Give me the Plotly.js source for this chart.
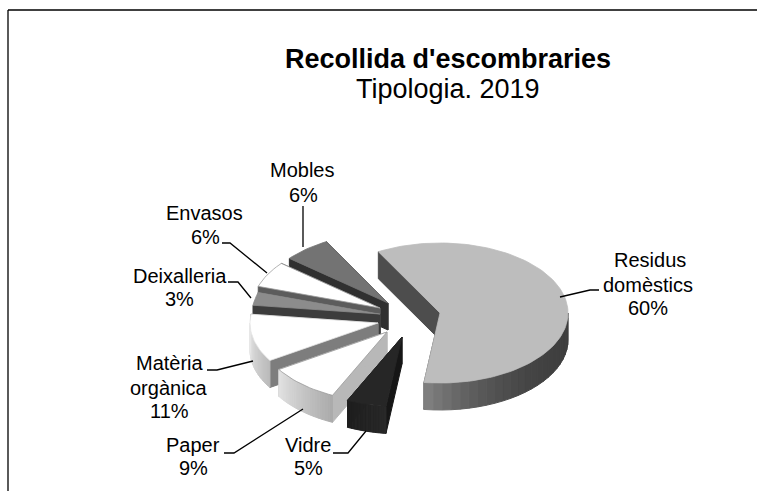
<!DOCTYPE html>
<html>
<head>
<meta charset="utf-8">
<script src="https://cdn.plot.ly/plotly-3.0.1.min.js"></script>
<style>html,body{margin:0;padding:0;background:#fff}#c{width:757px;height:491px}</style>
</head>
<body>
<div id="c"></div>
<script>
// Data
var sliceNames = ['Residus domèstics','Vidre','Paper','Matèria orgànica','Deixalleria','Envasos','Mobles'];
var sliceValues = [60,5,9,11,3,6,6];

// Styles
var topColors    = ['#bdbdbd','#262626','#ffffff','#ffffff','#8c8c8c','#ffffff','#737373'];
var edgeColors   = ['#bdbdbd','#262626','#9a9a9a','#e4e4e4','#8c8c8c','#a0a0a0','#737373'];
var radialColors = ['#4d4d4d','#161616','#b8b8b8','#7d7d7d','#3c3c3c','#5c5c5c','#303030'];
var arcFrom      = [[62,62,62],[40,40,40],[170,170,170],[185,185,185],[60,60,60],[90,90,90],[50,50,50]];
var arcTo        = [[130,130,130],[30,30,30],[225,225,225],[232,232,232],[60,60,60],[90,90,90],[50,50,50]];
var arcPower     = [3,1,1,1,1,1,1];
// Layout of the exploded pie, in page pixels
var apexX = [440,402,387,378,380,380,388];
var apexY = [313,337,332,323,314,308,303];
var radiusX = 128, radiusY = 70, depth = 27, startAngle = -28.8;
var drawOrder = [6,5,4,3,0,2,1];

var labelTexts = ['Residus','domèstics','60%','Mobles','6%','Envasos','6%','Deixalleria','3%','Matèria','orgànica','11%','Paper','9%','Vidre','5%'];
var labelX = [650,648,648,302,303,204,205,180,179,170,169,169,193,193,308,308];
var labelY = [260,285,308,170,195,213,237,276,299,363,388,411,445,468,445,468];
var leaderLines = [
  [[560,297],[590,290],[599,290]],
  [[303,206],[303,247]],
  [[222,243],[230,243],[267,273]],
  [[228,282],[238,282],[251,298]],
  [[207,370],[217,370],[253,361]],
  [[224,453],[234,453],[303,409]],
  [[333,453],[348,453],[366,431]]
];

var traces = [];
function poly(xs, ys, fill, line, w) {
  traces.push({type:'scatter', mode:'lines', x:xs.concat([xs[0]]), y:ys.concat([ys[0]]), fill:'toself',
    fillcolor:fill, line:{color:line||fill, width:w===undefined?1:w}, hoverinfo:'skip', showlegend:false});
}
function pt(i, deg) {
  var r = deg*Math.PI/180;
  return [apexX[i]+radiusX*Math.sin(r), apexY[i]-radiusY*Math.cos(r)];
}
var total = sliceValues.reduce(function(a,b){return a+b;},0);
var starts = [], cum = startAngle;
sliceValues.forEach(function(v){ starts.push(cum); cum += v/total*360; });

drawOrder.forEach(function(i){
  var a0 = starts[i], a1 = a0 + sliceValues[i]/total*360;
  // radial walls
  [a0,a1].forEach(function(a){
    var p = pt(i,a);
    poly([apexX[i],p[0],p[0],apexX[i]],[apexY[i],p[1],p[1]+depth,apexY[i]+depth],radialColors[i]);
  });
  // curved wall, shaded in strips
  var v0 = Math.max(a0,90), v1 = Math.min(a1,270), n = 24;
  if (v1 > v0) for (var k=0;k<n;k++){
    var b0 = v0+(v1-v0)*k/n, b1 = v0+(v1-v0)*(k+1)/n, t=Math.pow((k+0.5)/n,arcPower[i]);
    var c = arcFrom[i].map(function(f,j){return Math.round(f+(arcTo[i][j]-f)*t);});
    var col = 'rgb('+c.join(',')+')';
    var p0 = pt(i,b0), p1 = pt(i,b1);
    poly([p0[0],p1[0],p1[0],p0[0]],[p0[1],p1[1],p1[1]+depth,p0[1]+depth],col);
  }
  // top face
  var xs=[apexX[i]], ys=[apexY[i]];
  for (var a=a0;a<a1;a+=2){var p=pt(i,a);xs.push(p[0]);ys.push(p[1]);}
  var pe=pt(i,a1);xs.push(pe[0]);ys.push(pe[1]);
  poly(xs,ys,topColors[i],edgeColors[i],0.8);
});

leaderLines.forEach(function(l){
  traces.push({type:'scatter',mode:'lines',x:l.map(function(p){return p[0];}),y:l.map(function(p){return p[1];}),
    line:{color:'#000',width:1.3},hoverinfo:'skip',showlegend:false});
});

var font = 'Liberation Sans, Arial, sans-serif';
var annotations = labelTexts.map(function(t,i){
  return {x:labelX[i],y:labelY[i],xref:'x',yref:'y',text:t,showarrow:false,xanchor:'center',yanchor:'middle',
    font:{family:font,size:20,color:'#000'}};
});
annotations.push({x:448,y:59,xref:'x',yref:'y',text:"<b>Recollida d'escombraries</b>",showarrow:false,xanchor:'center',yanchor:'middle',font:{family:font,size:27,color:'#000'}});
annotations.push({x:448,y:89,xref:'x',yref:'y',text:'Tipologia. 2019',showarrow:false,xanchor:'center',yanchor:'middle',font:{family:font,size:27,color:'#000'}});

var layout = {
  width:757,height:491,margin:{l:0,r:0,t:0,b:0},paper_bgcolor:'#fff',plot_bgcolor:'#fff',showlegend:false,
  xaxis:{range:[0,757],visible:false,fixedrange:true},
  yaxis:{range:[491,0],visible:false,fixedrange:true},
  annotations:annotations,
  shapes:[
    {type:'line',xref:'x',yref:'y',x0:8,y0:10,x1:757,y1:10,line:{color:'#000',width:1.3}},
    {type:'line',xref:'x',yref:'y',x0:8,y0:10,x1:8,y1:491,line:{color:'#000',width:1.3}}
  ]
};
Plotly.newPlot('c',traces,layout,{staticPlot:true,displayModeBar:false});
</script>
</body>
</html>
